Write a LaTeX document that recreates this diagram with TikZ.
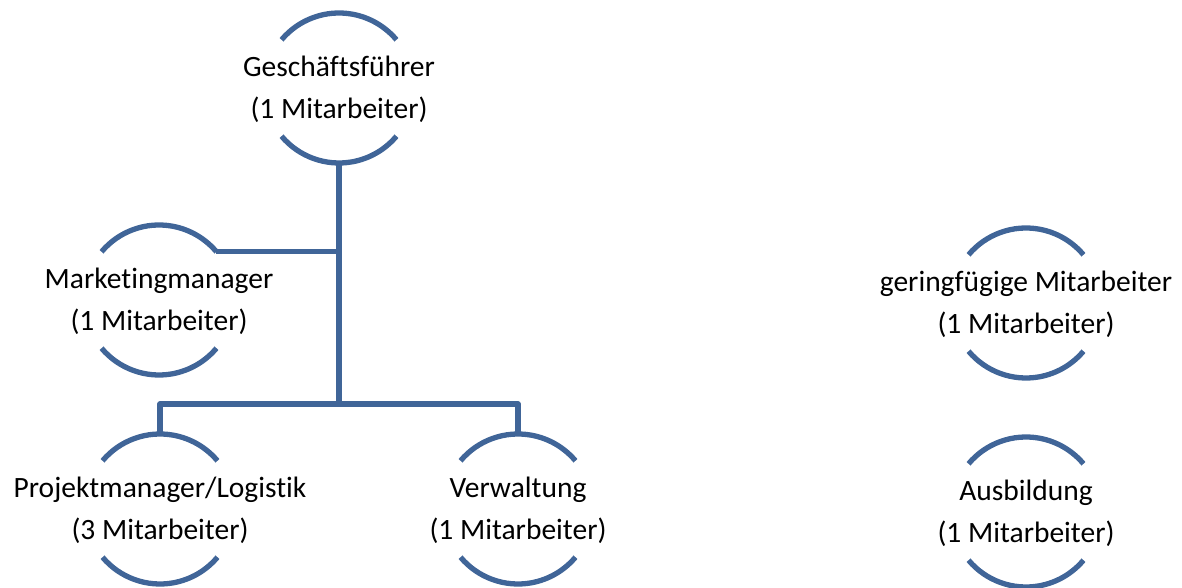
\documentclass[tikz,border=0pt]{standalone}
\usepackage{fontspec}
\setmainfont{Carlito}[Ligatures=NoCommon]
\usepackage{tikz}
\usetikzlibrary{positioning}

\definecolor{orgblue}{RGB}{64,101,152}

\begin{document}
\begin{tikzpicture}[x=1pt,y=1pt,
        ring/.style={circle,minimum size=150pt,inner sep=0pt,outer sep=0pt},
        arcline/.style={draw=orgblue,line width=5.3pt},
        link/.style={draw=orgblue,line width=5.3pt,line join=round}]
            \useasboundingbox (0,0) rectangle (1182,588);
            \tikzset{every label/.style={align=center,yshift=-1.5pt,font=\fontsize{29.5}{42}\selectfont}}

            \node[ring,label=center:{Geschäftsführer\\(1 Mitarbeiter)}] (gf) at (339,500) {};
            \node[ring,label=center:{Marketingmanager\\(1 Mitarbeiter)}] (mm) at (159,288) {};
            \node[ring,label=center:{Projektmanager/Logistik\\(3 Mitarbeiter)}] (pm) at (160,79) {};
            \node[ring,label=center:{Verwaltung\\(1 Mitarbeiter)}] (vw) at (518,79) {};
            \node[ring,label=center:{geringfügige Mitarbeiter\\(1 Mitarbeiter)}] (gm) at (1026,285) {};
            \node[ring,label=center:{Ausbildung\\(1 Mitarbeiter)}] (ab) at (1026,76) {};

            % half rings above and below each text
            \foreach \n in {gf,mm,pm,vw,gm,ab} {
                \draw[arcline] (\n.140) arc[start angle=140,end angle=40,radius=75pt];
                \draw[arcline] (\n.220) arc[start angle=220,end angle=320,radius=75pt];
            }

            \coordinate (bus) at (339,184);
            \draw[link] (gf.south) -- (bus);
            \draw[link] (mm.40) -- (mm.40 -| gf.south);
            \draw[link] (pm.north) |- (bus) -| (vw.north);
        \end{tikzpicture}
\end{document}
